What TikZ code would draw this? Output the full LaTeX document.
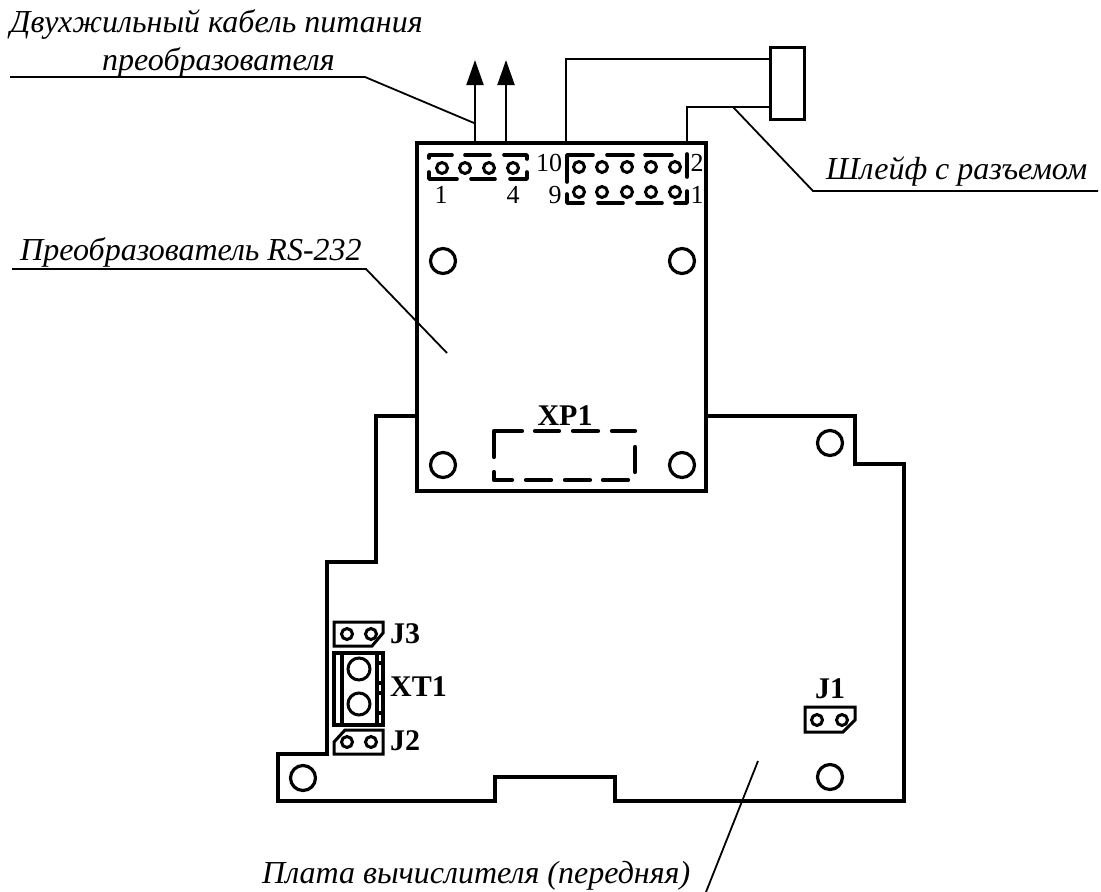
\documentclass[tikz,border=0pt]{standalone}
\usepackage{fontspec}
\setmainfont{Liberation Serif}
\usetikzlibrary{arrows.meta}

\begin{document}
\begin{tikzpicture}[x=1pt,y=-1pt,
    wire/.style={line width=2pt},
    leader/.style={line width=1.8pt},
    outline/.style={line width=3.8pt,line join=miter},
    hole/.style={circle,draw,line width=3.2pt,minimum size=25pt,inner sep=0pt},
    pin/.style={circle,draw,line width=3pt,minimum size=11pt,inner sep=0pt},
    bigpin/.style={circle,draw,line width=3pt,minimum size=22pt,inner sep=0pt},
    pinframe/.style={line width=3.6pt,line cap=round,line join=round},
    jumper/.style={line width=3pt,line join=miter},
    note/.style={font=\fontsize{32}{34}\selectfont\itshape,anchor=base west,inner sep=0pt},
    num/.style={font=\fontsize{26}{28}\selectfont,anchor=base,inner sep=0pt},
    tag/.style={font=\fontsize{30}{32}\selectfont\bfseries,anchor=base west,inner sep=0pt}]

    \useasboundingbox (0,0) rectangle (1101,892);

    \draw[outline] (416,416) -- (376,416) -- (376,562) -- (327,562) -- (327,754)
        -- (278,754) -- (278,801) -- (495,801) -- (495,777) -- (615,777) -- (615,801)
        -- (904,801) -- (904,464) -- (855,464) -- (855,416) -- (706,416);
    \draw[outline] (417,143) rectangle (706,491);

    \foreach \name/\x/\y in {a/443/261,b/682/261,c/443/465,d/682/465,e/830/443,f/830/777,g/303/778}
        \node[hole] (hole\name) at (\x,\y) {};

    % power cable
    \coordinate (powa) at (475,143);
    \coordinate (powb) at (506,143);
    \coordinate (powaend) at (475,60);
    \coordinate (powbend) at (506,60);
    \draw[wire,-{Triangle[length=25pt,width=17pt]}] (powa) -- (powaend);
    \draw[wire,-{Triangle[length=25pt,width=17pt]}] (powb) -- (powbend);

    % ribbon with plug
    \draw[line width=3pt,fill=white] (770,47) rectangle (804,119);
    \coordinate (riba) at (566,143);
    \coordinate (ribb) at (687,143);
    \coordinate (plugtop) at (770,59);
    \coordinate (plugbot) at (770,107);
    \draw[wire] (riba) |- (plugtop);
    \draw[wire] (ribb) |- (plugbot);

    % headers
    \draw[pinframe] (429,158) -- (429,155) -- (452,155) (465,155) -- (490,155)
        (504,155) -- (527,155) -- (527,159) (527,172) -- (527,179) -- (510,179)
        (495,179) -- (471,179) (457,179) -- (429,179) -- (429,172);
    \draw[pinframe] (567,182) -- (567,155) -- (593,155) (607,155) -- (633,155)
        (645,155) -- (672,155) (687,154) -- (687,177) (687,191) -- (687,203) -- (675,203)
        (662,203) -- (637,203) (623,203) -- (598,203) (583,203) -- (567,203) -- (567,194);
    \foreach \x [count=\i] in {442,465,489,513}
        \node[pin] (pw\i) at (\x,168) {};
    \foreach \x [count=\i] in {579,602,627,651,675} {
        \node[pin] (up\i) at (\x,167) {};
        \node[pin] (dn\i) at (\x,192) {};
    }
    \node[num] (n1) at (441,203) {1};
    \node[num] (n4) at (513,203) {4};
    \node[num] (n10) at (549,171) {10};
    \node[num] (n9) at (555,203) {9};
    \node[num] (n2) at (697,171) {2};
    \node[num] (n1b) at (697,203) {1};

    \draw[pinframe,line width=4.2pt] (494,457) -- (494,431) -- (522,431)
        (535,431) -- (559,431) (573,431) -- (598,431) (612,431) -- (635,431)
        (635,447) -- (635,472) (628,480) -- (603,480) (590,480) -- (565,480)
        (551,480) -- (526,480) (512,480) -- (494,480) -- (494,472);
    \node[tag,anchor=base] (xp1) at (565,425) {XP1};

    % jumpers and terminal block
    \draw[jumper] (334,622) -- (383,622) -- (383,633) -- (372,646) -- (334,646) -- cycle;
    \node[pin] (j3a) at (347,634) {};
    \node[pin] (j3b) at (371,634) {};
    \node[tag] (j3) at (390,643) {J3};

    \draw[jumper,line width=3.4pt] (334,653) rectangle (383,725);
    \draw[jumper,line width=3.4pt] (342,653) -- (342,725);
    \draw[jumper,line width=3.4pt] (377,653) -- (377,725);
    \foreach \y in {663,683,693,713}
        \draw[jumper,line width=4pt] (377,\y) -- (383,\y);
    \node[bigpin] (xta) at (359,669) {};
    \node[bigpin] (xtb) at (359,704) {};
    \node[tag] (xt1) at (390,696) {XT1};

    \draw[jumper] (345,730) -- (383,730) -- (383,754) -- (334,754) -- (334,742) -- cycle;
    \node[pin] (j2a) at (347,742) {};
    \node[pin] (j2b) at (371,742) {};
    \node[tag] (j2) at (390,750) {J2};

    \draw[jumper] (805,707) -- (855,707) -- (855,720) -- (843,732) -- (805,732) -- cycle;
    \node[pin] (j1a) at (817,720) {};
    \node[pin] (j1b) at (842,720) {};
    \node[tag,anchor=base] (j1) at (830,698) {J1};

    % notes
    \node[note] (powtext) at (10,32) {Двухжильный кабель питания};
    \node[note] (powtextb) at (102,70) {преобразователя};
    \coordinate (powa1) at (10,77);
    \coordinate (powa2) at (365,77);
    \coordinate (powa3) at (474,123);
    \draw[leader] (powa1) -- (powa2) -- (powa3);

    \node[note] (ribtext) at (826,179) {Шлейф с разъемом};
    \coordinate (rib1) at (1098,191);
    \coordinate (rib2) at (813,191);
    \coordinate (rib3) at (733,107);
    \draw[leader] (rib1) -- (rib2) -- (rib3);

    \node[note] (convtext) at (20,260) {Преобразователь RS-232};
    \coordinate (conv1) at (12,269);
    \coordinate (conv2) at (366,269);
    \coordinate (conv3) at (447,353);
    \draw[leader] (conv1) -- (conv2) -- (conv3);

    \node[note] (boardtext) at (262,883) {Плата вычислителя (передняя)};
    \coordinate (board1) at (758,761);
    \coordinate (board2) at (706,892);
    \draw[leader] (board1) -- (board2);
\end{tikzpicture}
\end{document}
